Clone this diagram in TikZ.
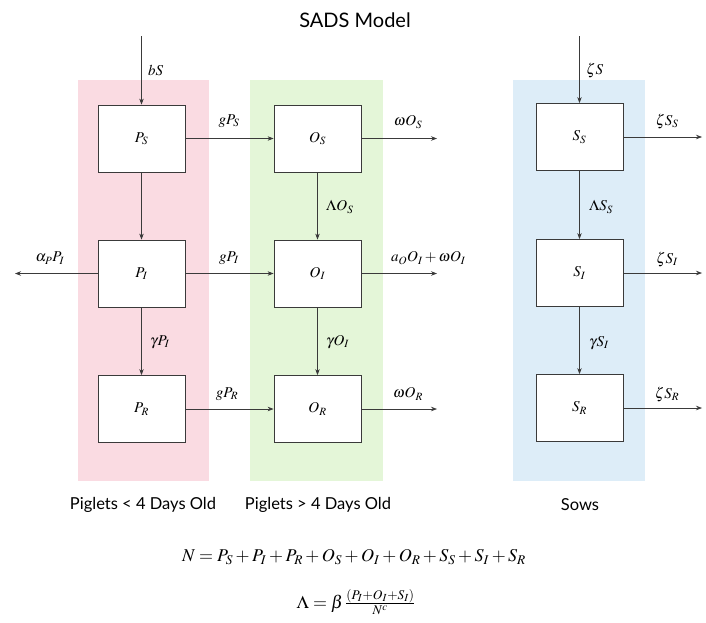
\documentclass[tikz,border=0pt]{standalone}
\usepackage{mathptmx}
\usepackage{fontspec}
\setsansfont{Lato}
\usetikzlibrary{arrows.meta}
\definecolor{pinkband}{HTML}{FADBE2}
\definecolor{greenband}{HTML}{E4F6D8}
\definecolor{blueband}{HTML}{DDEDF8}
\definecolor{boxline}{HTML}{3A3A3A}
\tikzset{
  box/.style={draw=boxline, line width=0.8pt, fill=white, minimum width=87pt, minimum height=67pt, inner sep=0pt, font=\fontsize{15}{17}\selectfont},
  flow/.style={draw=boxline, line width=0.7pt, -{Stealth[length=6pt,width=4.5pt]}},
  lbl/.style={font=\fontsize{15}{17}\selectfont, inner sep=1pt},
  grp/.style={font=\sffamily\fontsize{16.5}{19}\selectfont},
}
\begin{document}
\begin{tikzpicture}[x=1pt,y=-1pt]
\useasboundingbox (0,0) rectangle (706,622);
% bands
\fill[pinkband] (78,80) rectangle (209,481);
\fill[greenband] (250,80) rectangle (383,481);
\fill[blueband] (513,80) rectangle (645,481);
% title
\node[font=\sffamily\fontsize{20}{24}\selectfont] (title) at (355,20) {SADS Model};
% boxes
\node[box] (PS) at (141.5,138.5) {$P_S$};
\node[box] (PI) at (141.5,273.5) {$P_I$};
\node[box] (PR) at (141.5,409) {$P_R$};
\node[box] (OS) at (317.5,138.5) {$O_S$};
\node[box] (OI) at (317.5,273.5) {$O_I$};
\node[box] (OR) at (317.5,409) {$O_R$};
\node[box] (SS) at (579.5,137) {$S_S$};
\node[box] (SI) at (579.5,273) {$S_I$};
\node[box] (SR) at (579.5,408) {$S_R$};
% free ends
\coordinate (bStop) at (141.5,36);
\coordinate (zStop) at (579.5,36);
\coordinate (aPend) at (15,273.5);
\coordinate (wOSend) at (437,138.5);
\coordinate (aOIend) at (437,273.5);
\coordinate (wORend) at (437,409);
\coordinate (zSSend) at (702,137);
\coordinate (zSIend) at (702,273);
\coordinate (zSRend) at (702,408);
% flows
\draw[flow] (bStop) -- (PS.north);
\draw[flow] (zStop) -- (SS.north);
\draw[flow] (PS) -- (OS);
\draw[flow] (PI) -- (OI);
\draw[flow] (PR) -- (OR);
\draw[flow] (PS) -- (PI);
\draw[flow] (PI) -- (PR);
\draw[flow] (OS) -- (OI);
\draw[flow] (OI) -- (OR);
\draw[flow] (SS) -- (SI);
\draw[flow] (SI) -- (SR);
\draw[flow] (PI.west) -- (aPend);
\draw[flow] (OS.east) -- (wOSend);
\draw[flow] (OI.east) -- (aOIend);
\draw[flow] (OR.east) -- (wORend);
\draw[flow] (SS.east) -- (zSSend);
\draw[flow] (SI.east) -- (zSIend);
\draw[flow] (SR.east) -- (zSRend);
% labels
\node[lbl, anchor=west] (lbS) at (147,70) {$bS$};
\node[lbl, anchor=west] (lzS) at (585,70) {$\zeta S$};
\node[lbl] (lgPS) at (229,121) {$gP_S$};
\node[lbl] (lgPI) at (229,258) {$gP_I$};
\node[lbl] (lgPR) at (227,394) {$gP_R$};
\node[lbl] (lwOS) at (408,122) {$\omega O_S$};
\node[lbl, anchor=west] (laOI) at (390,258) {$a_O O_I + \omega O_I$};
\node[lbl] (lwOR) at (408,394) {$\omega O_R$};
\node[lbl] (laP) at (50,258) {$\alpha_P P_I$};
\node[lbl, anchor=west] (lLOS) at (325,207) {$\Lambda O_S$};
\node[lbl, anchor=west] (lgOI) at (325,342) {$\gamma O_I$};
\node[lbl, anchor=west] (lgPIv) at (149,342) {$\gamma P_I$};
\node[lbl, anchor=west] (lLSS) at (588,207) {$\Lambda S_S$};
\node[lbl, anchor=west] (lgSI) at (588,343) {$\gamma S_I$};
\node[lbl] (lzSS) at (667,121) {$\zeta S_S$};
\node[lbl] (lzSI) at (667,259) {$\zeta S_I$};
\node[lbl] (lzSR) at (667,394) {$\zeta S_R$};
% group captions
\node[grp] (gP1) at (143,505) {Piglets < 4 Days Old};
\node[grp] (gP2) at (318,505) {Piglets > 4 Days Old};
\node[grp] (gS) at (580,505) {Sows};
% equations
\node[font=\fontsize{18}{21}\selectfont] (eqN) at (354,557) {$N = P_S + P_I + P_R + O_S + O_I + O_R + S_S + S_I + S_R$};
\node[font=\fontsize{18}{21}\selectfont] (eqL) at (356,602) {$\Lambda = \beta\,\frac{(P_I + O_I + S_I)}{N^c}$};
\end{tikzpicture}
\end{document}
